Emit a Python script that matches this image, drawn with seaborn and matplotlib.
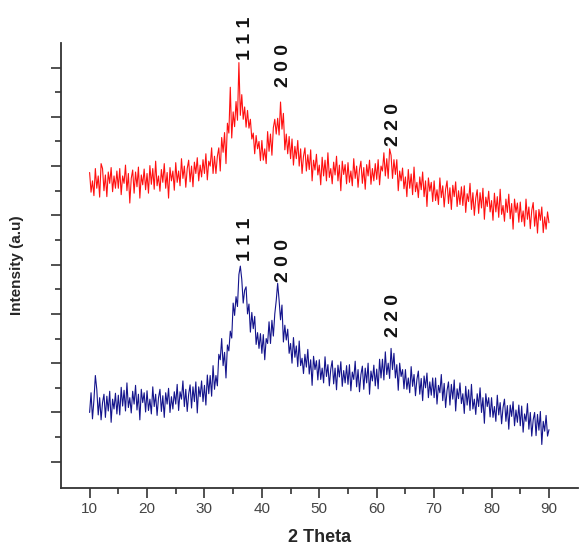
import matplotlib.pyplot as plt
import numpy as np
import pandas as pd
import seaborn as sns

# 2 theta grid, 10 to 90 in steps of 0.25 degree
two_theta = np.arange(10, 90.001, 0.25)

# intensities (arbitrary units, upper trace)
red_counts = [
    6.87, 6.47, 6.70, 6.40, 6.95, 6.55, 6.80, 6.37, 7.05, 6.95, 6.50, 6.82, 6.38, 6.88, 6.65, 6.97, 6.48, 6.80, 6.55, 6.90,
    6.55, 6.95, 6.42, 6.80, 6.65, 7.02, 6.50, 6.85, 6.25, 6.75, 6.92, 6.45, 6.88, 6.58, 6.98, 6.35, 6.82, 6.62, 6.94, 6.52,
    6.85, 6.45, 7.01, 6.63, 6.95, 6.53, 7.10, 6.60, 6.80, 6.49, 6.93, 6.67, 7.05, 6.55, 6.87, 6.35, 6.97, 6.70, 6.90, 6.51,
    7.07, 6.67, 6.90, 6.60, 7.15, 6.75, 7.00, 6.57, 6.95, 7.12, 6.68, 7.00, 6.58, 7.08, 6.85, 7.17, 6.70, 7.02, 6.78, 7.13,
    6.85, 7.25, 6.72, 7.10, 7.00, 7.37, 6.85, 7.20, 6.85, 7.20, 7.37, 6.90, 7.58, 7.28, 7.68, 7.05, 7.87, 7.67, 8.60, 7.57,
    8.10, 7.80, 8.31, 7.93, 9.10, 8.03, 8.45, 7.95, 8.20, 7.79, 8.13, 7.77, 7.95, 7.55, 7.67, 7.25, 7.62, 7.35, 7.50, 7.11,
    7.52, 7.12, 7.35, 7.05, 7.70, 7.30, 7.65, 7.22, 7.78, 7.95, 7.65, 7.97, 7.63, 8.30, 7.75, 8.07, 7.33, 7.65, 7.25, 7.60,
    7.15, 7.55, 7.02, 7.40, 7.15, 7.52, 7.00, 7.35, 6.85, 7.20, 7.37, 6.90, 7.23, 6.93, 7.33, 6.70, 7.12, 6.92, 7.24, 6.82,
    7.02, 6.62, 7.18, 6.80, 7.12, 6.70, 7.27, 6.77, 6.95, 6.64, 7.08, 6.82, 7.20, 6.70, 7.02, 6.50, 7.10, 6.83, 7.03, 6.64,
    7.07, 6.67, 6.90, 6.60, 7.15, 6.75, 7.00, 6.57, 6.93, 7.10, 6.65, 6.97, 6.53, 7.03, 6.80, 7.12, 6.63, 6.95, 6.70, 7.05,
    6.73, 7.13, 6.62, 7.00, 6.90, 7.27, 6.80, 7.15, 6.75, 7.35, 7.22, 6.75, 7.13, 6.83, 7.13, 6.50, 6.90, 6.70, 6.96, 6.54,
    6.78, 6.38, 6.93, 6.55, 6.84, 6.42, 6.98, 6.48, 6.67, 6.36, 6.78, 6.52, 6.88, 6.38, 6.70, 6.18, 6.76, 6.49, 6.67, 6.28,
    6.70, 6.30, 6.52, 6.22, 6.76, 6.36, 6.60, 6.17, 6.53, 6.70, 6.24, 6.56, 6.12, 6.61, 6.38, 6.68, 6.18, 6.50, 6.22, 6.58,
    6.20, 6.60, 6.06, 6.44, 6.28, 6.65, 6.12, 6.46, 6.00, 6.35, 6.52, 6.04, 6.46, 6.15, 6.55, 5.92, 6.37, 6.18, 6.49, 6.07,
    6.30, 5.90, 6.45, 6.07, 6.38, 5.96, 6.53, 6.02, 6.20, 5.88, 6.33, 6.06, 6.43, 5.93, 6.24, 5.72, 6.33, 6.06, 6.25, 5.86,
    6.27, 5.87, 6.09, 5.78, 6.33, 5.92, 6.17, 5.73, 6.10, 6.26, 5.78, 6.10, 5.64, 6.12, 5.90, 6.17, 5.65, 5.97, 5.72, 6.07,
    5.85,
]

# lower trace
blue_counts = [
    2.00, 2.40, 1.87, 2.25, 2.75, 2.47, 1.95, 2.30, 1.85, 2.20, 2.37, 1.90, 2.33, 2.03, 2.43, 1.80, 2.27, 2.07, 2.39, 1.97,
    2.35, 1.95, 2.51, 2.13, 2.45, 2.03, 2.60, 2.10, 2.30, 1.99, 2.43, 2.17, 2.55, 2.05, 2.37, 1.85, 2.47, 2.20, 2.40, 2.01,
    2.44, 2.04, 2.27, 1.97, 2.52, 2.12, 2.37, 1.94, 2.30, 2.47, 2.02, 2.34, 1.90, 2.40, 2.17, 2.49, 2.00, 2.32, 2.07, 2.42,
    2.17, 2.57, 2.04, 2.42, 2.27, 2.64, 2.12, 2.47, 2.02, 2.37, 2.56, 2.09, 2.52, 2.22, 2.62, 1.99, 2.52, 2.32, 2.64, 2.22,
    2.55, 2.15, 2.76, 2.38, 2.75, 2.33, 2.95, 2.47, 2.75, 2.54, 3.18, 3.07, 3.50, 2.95, 3.22, 2.70, 3.37, 3.25, 3.65, 3.51,
    4.22, 3.97, 4.35, 4.15, 4.80, 4.97, 4.70, 4.22, 4.48, 4.55, 4.00, 4.20, 3.63, 4.03, 3.70, 3.95, 3.38, 3.62, 3.30, 3.60,
    3.20, 3.58, 3.07, 3.50, 3.40, 3.84, 3.40, 3.87, 3.55, 4.00, 4.27, 4.62, 4.28, 3.88, 4.18, 3.43, 3.77, 3.47, 3.69, 3.20,
    3.40, 3.00, 3.52, 3.12, 3.35, 2.93, 3.45, 2.95, 3.10, 2.79, 3.18, 2.92, 3.28, 2.78, 3.07, 2.55, 3.14, 2.87, 3.05, 2.66,
    3.07, 2.67, 2.90, 2.60, 3.13, 2.73, 2.97, 2.54, 2.88, 3.05, 2.58, 2.90, 2.46, 2.96, 2.72, 3.03, 2.53, 2.85, 2.60, 2.95,
    2.57, 2.97, 2.44, 2.82, 2.67, 3.04, 2.52, 2.87, 2.42, 2.77, 2.94, 2.47, 2.90, 2.60, 3.00, 2.37, 2.84, 2.64, 2.96, 2.54,
    2.88, 2.48, 3.08, 2.70, 3.08, 2.66, 3.23, 2.77, 3.00, 2.69, 3.30, 2.87, 3.20, 2.70, 2.97, 2.45, 3.00, 2.73, 2.87, 2.48,
    2.87, 2.47, 2.70, 2.40, 2.93, 2.53, 2.77, 2.34, 2.67, 2.84, 2.37, 2.69, 2.24, 2.74, 2.50, 2.80, 2.30, 2.62, 2.35, 2.70,
    2.30, 2.70, 2.17, 2.55, 2.40, 2.77, 2.24, 2.59, 2.10, 2.45, 2.62, 2.15, 2.57, 2.27, 2.66, 2.03, 2.48, 2.28, 2.60, 2.18,
    2.38, 1.98, 2.53, 2.15, 2.46, 2.04, 2.57, 2.07, 2.27, 1.96, 2.38, 2.12, 2.50, 2.00, 2.30, 1.78, 2.38, 2.12, 2.30, 1.91,
    2.30, 1.90, 2.12, 1.82, 2.35, 1.95, 2.20, 1.77, 2.10, 2.27, 1.82, 2.14, 1.66, 2.15, 1.92, 2.22, 1.73, 2.05, 1.80, 2.15,
    1.73, 2.13, 1.60, 1.97, 1.82, 2.18, 1.66, 2.00, 1.52, 1.85, 2.00, 1.53, 1.96, 1.64, 2.02, 1.35, 1.82, 1.62, 1.94, 1.52,
    1.65,
]

# peak labels: text, 2 theta, label height (red / blue)
peak_labels = ['1 1 1', '2 0 0', '2 2 0']
peak_pos = [37.1, 43.7, 63.0]
red_label_y = [9.59, 9.05, 7.84]
blue_label_y = [5.52, 5.08, 3.96]

sns.set_style('ticks')
plt.rcParams['font.family'] = ['Liberation Sans', 'DejaVu Sans']

df = pd.DataFrame({'two_theta': np.concatenate([two_theta, two_theta]),
                   'intensity': red_counts + blue_counts,
                   'sample': ['red'] * len(two_theta) + ['blue'] * len(two_theta)})

fig = plt.figure(figsize=(5.8, 5.5), dpi=100)
ax = fig.add_axes([0.105, 0.113, 0.891, 0.809])

sns.lineplot(data=df, x='two_theta', y='intensity', hue='sample',
             palette={'red': '#ff1010', 'blue': '#14148c'},
             linewidth=0.8, legend=False, ax=ax, estimator=None)

for lab, x, yr, yb in zip(peak_labels, peak_pos, red_label_y, blue_label_y):
    ax.text(x, yr, lab, rotation=90, ha='center', va='center',
            fontsize=14, fontweight='bold', color='#111111', clip_on=False)
    ax.text(x, yb, lab, rotation=90, ha='center', va='center',
            fontsize=14, fontweight='bold', color='#111111')

ax.set_xlim(5, 95)
ax.set_ylim(0.47, 9.5)
ax.set_xticks(range(10, 91, 10))
ax.set_xticks(range(15, 91, 10), minor=True)
ax.set_yticks(range(1, 10))
ax.set_yticks(np.arange(1.5, 9.5, 1), minor=True)
ax.set_yticklabels([])

ax.tick_params(axis='both', which='major', length=7, width=1.2, color='#333333',
               labelsize=11, labelcolor='#444444')
ax.tick_params(axis='both', which='minor', length=4, width=1.2, color='#333333')

for side in ['top', 'right']:
    ax.spines[side].set_visible(False)
for side in ['left', 'bottom']:
    ax.spines[side].set_linewidth(1.3)
    ax.spines[side].set_color('#333333')

ax.set_xlabel('2 Theta', fontsize=13, fontweight='bold', labelpad=9)
ax.set_ylabel('Intensity (a.u)', fontsize=11, fontweight='bold', labelpad=16)

fig.savefig('out.png', dpi=100)
